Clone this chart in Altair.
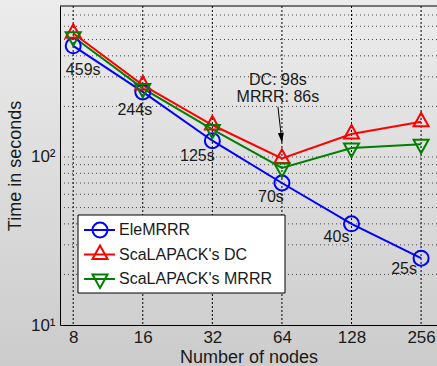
import altair as alt
import pandas as pd

# ---------------- data ----------------
nodes = [8, 16, 32, 64, 128, 256]
elemrrr = [459, 244, 125, 70, 40, 25]
scalapack_dc = [545, 268, 155, 98, 137, 162]
scalapack_mrrr = [520, 256, 146, 86, 113, 119]
series_names = ["EleMRRR", "ScaLAPACK's DC", "ScaLAPACK's MRRR"]
ele_labels = ["459s", "244s", "125s", "70s", "40s", "25s"]
y_grid_values = [20, 30, 40, 50, 60, 70, 80, 90, 100, 200, 300, 400, 500, 600, 700]
annotation_lines = ["DC: 98s", "MRRR: 86s"]
arrow_start = [61.5, 199]
arrow_end = [64, 123]

# ---------------- style ----------------
series_colors = ["#0000ff", "#ff0000", "#008000"]
tri_up = "M0,-1.2 L1,0.6 L-1,0.6 Z"
tri_down = "M0,1.2 L1,-0.6 L-1,-0.6 Z"
series_shapes = ["circle", tri_up, tri_down]
label_offsets = [(10, 24), (-8, 18), (-15, 15), (-11, 14), (-15, 13), (-17, 11)]
FONT = "Liberation Sans"
W, H = 377, 319

rows = []
for name, vals in zip(series_names, [elemrrr, scalapack_dc, scalapack_mrrr]):
    for n, v in zip(nodes, vals):
        rows.append({"nodes": n, "time": v, "series": name})
df = pd.DataFrame(rows)
df_ele = pd.DataFrame({"nodes": nodes, "time": elemrrr, "label": ele_labels})

xs = alt.Scale(type="log", base=2, domain=[7.014, 300], nice=False, zero=False)
ys = alt.Scale(type="log", domain=[10, 792], nice=False, zero=False)
cs = alt.Scale(domain=series_names, range=series_colors)
ss = alt.Scale(domain=series_names, range=series_shapes)

xaxis = alt.Axis(values=nodes, format="d", title="Number of nodes", grid=False, ticks=False,
                 domainColor="black", labelFontSize=17, labelFont=FONT, labelColor="#1a1a1a",
                 titleFontSize=18, titleFont=FONT, titleFontWeight="normal", titleColor="#1a1a1a",
                 labelPadding=4, titlePadding=3, labelFlush=False, zindex=1)
yaxis = alt.Axis(values=[10, 100], labelExpr="datum.value == 10 ? '10¹' : '10²'",
                 title="Time in seconds", grid=False, ticks=False, domainColor="black",
                 labelFontSize=17, labelFont=FONT, labelColor="#1a1a1a",
                 titleFontSize=18, titleFont=FONT, titleFontWeight="normal", titleColor="#1a1a1a",
                 labelPadding=5, titlePadding=6, labelFlush=False, zindex=1)


def X(field):
    return alt.X(field, type="quantitative", scale=xs, axis=xaxis)


def Y(field):
    return alt.Y(field, type="quantitative", scale=ys, axis=yaxis)


one = pd.DataFrame({"a": [0]})

bg = alt.Chart(one).mark_rect(
    fill=alt.LinearGradient(
        gradient="linear",
        stops=[alt.GradientStop(offset=0, color="#ececec"),
               alt.GradientStop(offset=1, color="#cbcbcb")],
        x1=0, x2=0, y1=0, y2=1),
).encode(x=alt.value(-60), x2=alt.value(W + 10), y=alt.value(-6), y2=alt.value(H + 50))

vgrid = alt.Chart(pd.DataFrame({"nodes": nodes})).mark_rule(
    color="black", strokeDash=[2, 2], strokeWidth=1
).encode(x=X("nodes"))

hgrid = alt.Chart(pd.DataFrame({"time": y_grid_values})).mark_rule(
    color="#444444", strokeDash=[1, 3], strokeWidth=1
).encode(y=Y("time"))

top_border = alt.Chart(one).mark_rule(color="black", strokeWidth=1).encode(
    x=alt.value(0), x2=alt.value(W), y=alt.value(0))

lines = alt.Chart(df).mark_line(strokeWidth=2).encode(
    x=X("nodes"), y=Y("time"),
    color=alt.Color("series:N", scale=cs, legend=None),
    detail="series:N",
)

points = alt.Chart(df).mark_point(filled=False, strokeWidth=2, size=225, opacity=1).encode(
    x=X("nodes"), y=Y("time"),
    color=alt.Color("series:N", scale=cs, legend=None),
    shape=alt.Shape("series:N", scale=ss, legend=None),
)

texts = []
for i, (dx, dy) in enumerate(label_offsets):
    texts.append(
        alt.Chart(df_ele.iloc[[i]]).mark_text(
            dx=dx, dy=dy, fontSize=16, font=FONT, color="#1a1a1a", align="center", baseline="middle"
        ).encode(x=X("nodes"), y=Y("time"), text="label:N")
    )

ann_df = pd.DataFrame({"nodes": [64, 64], "time": [98, 98], "text": annotation_lines})
ann_texts = []
for i, dy in enumerate([-78, -61]):
    ann_texts.append(
        alt.Chart(ann_df.iloc[[i]]).mark_text(
            dx=-4, dy=dy, fontSize=16, font=FONT, color="#1a1a1a", align="center", baseline="middle"
        ).encode(x=X("nodes"), y=Y("time"), text="text:N")
    )

arrow_df = pd.DataFrame({"nodes": [arrow_start[0]], "time": [arrow_start[1]],
                         "nodes2": [arrow_end[0]], "time2": [arrow_end[1]]})
arrow = alt.Chart(arrow_df).mark_rule(color="black", strokeWidth=1).encode(
    x=X("nodes"), y=Y("time"), x2="nodes2:Q", y2="time2:Q")
head = alt.Chart(pd.DataFrame({"nodes": [arrow_end[0]], "time": [arrow_end[1]]})).mark_point(
    shape="M0,1 L-0.6,-1 L0.6,-1 Z", filled=True, color="black", size=100, opacity=1,
    angle=353.5, yOffset=-4, xOffset=-0.5
).encode(x=X("nodes"), y=Y("time"))

# ---------------- legend (drawn box) ----------------
leg_df = pd.DataFrame({"series": series_names})
leg_box = alt.Chart(one).mark_rect(fill="white", stroke="black", strokeWidth=1).encode(
    x=alt.value(18), x2=alt.value(225), y=alt.value(209), y2=alt.value(287))
leg_layers = [leg_box]
for i, name in enumerate(series_names):
    row = leg_df.iloc[[i]]
    yv = alt.value(224 + i * 24.5)
    leg_layers.append(alt.Chart(row).mark_rule(strokeWidth=2, color=series_colors[i]).encode(
        x=alt.value(24), x2=alt.value(55), y=yv))
    leg_layers.append(alt.Chart(row).mark_point(
        filled=False, strokeWidth=2, size=225, opacity=1, color=series_colors[i],
        shape=series_shapes[i]).encode(x=alt.value(40), y=yv))
    leg_layers.append(alt.Chart(row).mark_text(
        align="left", baseline="middle", fontSize=16, font=FONT, color="#1a1a1a"
    ).encode(x=alt.value(59), y=yv, text="series:N"))

chart = alt.layer(bg, vgrid, hgrid, lines, points, *texts, *ann_texts, arrow, head, top_border,
                  *leg_layers).properties(
    width=W, height=H,
    autosize=alt.AutoSizeParams(type="none"),
    padding={"left": 60, "top": 6, "right": 0, "bottom": 41},
    background="#dedede",
).configure_view(stroke=None)

chart.save("out.html", embed_options={"renderer": "svg", "actions": False})
